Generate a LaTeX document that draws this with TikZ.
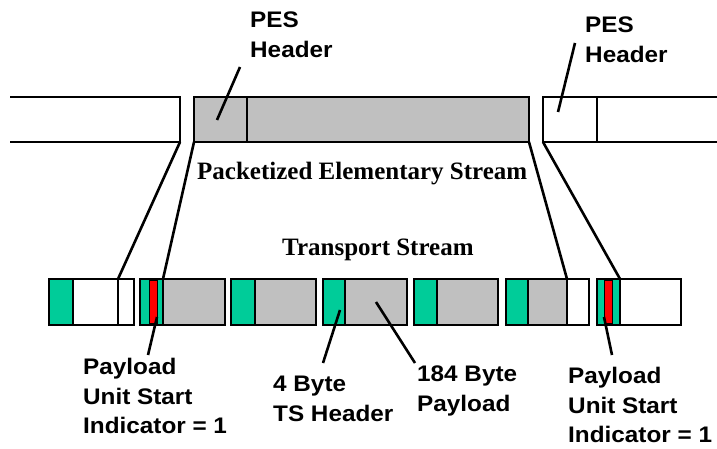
\documentclass[tikz,border=0pt]{standalone}
\usepackage{fontspec}
\setmainfont{Liberation Serif}
\newfontfamily\labelsans[FakeStretch=1.08]{Liberation Sans}
\definecolor{tsgreen}{RGB}{0,204,153}
\definecolor{pesgray}{RGB}{192,192,192}
\definecolor{pusired}{RGB}{255,0,0}
\tikzset{
  edge/.style={line width=2.6pt},
  sanslabel/.style={anchor=north west, inner sep=0pt, align=left,
    font=\labelsans\bfseries\fontsize{22.5}{29.5}\selectfont},
  streamtitle/.style={anchor=base west, inner sep=0pt,
    font=\bfseries\fontsize{25}{30}\selectfont},
  hdrfill/.style={fill=tsgreen},
  payfill/.style={fill=pesgray},
  pusibar/.style={fill=pusired, draw=black, line width=0.7pt}
}
\begin{document}
\begin{tikzpicture}[x=1pt,y=-1pt]
\useasboundingbox (0,0) rectangle (717,449);

% ---------- packetized elementary stream ----------
\draw[edge] (10,97) -- (180,97) -- (180,142) -- (10,142);
\coordinate (pesA) at (180,142);

\draw[edge, payfill] (194,97) rectangle (529,142);
\draw[edge] (247,97) -- (247,142);
\coordinate (pesB) at (194,142);
\coordinate (pesC) at (529,142);
\coordinate (hdrL) at (217,120);

\draw[edge] (717,97) -- (543,97) -- (543,142) -- (717,142);
\draw[edge] (597,97) -- (597,142);
\coordinate (pesD) at (543,142);
\coordinate (hdrR) at (558,112);

% ---------- transport stream packets ----------
% packet 1
\fill[hdrfill] (49,279) rectangle (73,325);
\draw[edge] (49,279) rectangle (134,325);
\draw[edge] (73,279) -- (73,325);
\draw[edge] (118,279) -- (118,325);
\coordinate (tsA) at (118,279);
% packet 2
\fill[hdrfill] (140,279) rectangle (163,325);
\fill[payfill] (163,279) rectangle (225,325);
\draw[pusibar] (149,280.5) rectangle (157,323.5);
\draw[edge] (140,279) rectangle (225,325);
\draw[edge] (163,279) -- (163,325);
\coordinate (tsB) at (163,279);
\coordinate (pusiA) at (157,317);
% packet 3
\fill[hdrfill] (231,279) rectangle (255,325);
\fill[payfill] (255,279) rectangle (316,325);
\draw[edge] (231,279) rectangle (316,325);
\draw[edge] (255,279) -- (255,325);
% packet 4
\fill[hdrfill] (323,279) rectangle (345,325);
\fill[payfill] (345,279) rectangle (407,325);
\draw[edge] (323,279) rectangle (407,325);
\draw[edge] (345,279) -- (345,325);
\coordinate (tshdrpt) at (340,310);
\coordinate (paypt) at (376,302);
% packet 5
\fill[hdrfill] (414,279) rectangle (437,325);
\fill[payfill] (437,279) rectangle (498,325);
\draw[edge] (414,279) rectangle (498,325);
\draw[edge] (437,279) -- (437,325);
% packet 6
\fill[hdrfill] (506,279) rectangle (528,325);
\fill[payfill] (528,279) rectangle (567,325);
\draw[edge] (506,279) rectangle (589,325);
\draw[edge] (528,279) -- (528,325);
\draw[edge] (567,279) -- (567,325);
\coordinate (tsC) at (567,279);
% packet 7
\fill[hdrfill] (597,279) rectangle (620,325);
\draw[pusibar] (604,280.5) rectangle (612,323.5);
\draw[edge] (597,279) rectangle (681,325);
\draw[edge] (620,279) -- (620,325);
\coordinate (tsD) at (620,279);
\coordinate (pusiB) at (604,317);

% ---------- titles ----------
\node[streamtitle] (pestitle) at (197,180) {Packetized Elementary Stream};
\node[streamtitle] (tstitle) at (282,255) {Transport Stream};

% ---------- labels ----------
\node[sanslabel] (peshdrL) at (250,12) {PES\\Header};
\node[sanslabel] (peshdrR) at (585,17) {PES\\Header};
\node[sanslabel] (pusiLabelA) at (83,358) {Payload\\Unit Start\\Indicator = 1};
\node[sanslabel] (tshdrLabel) at (273,376) {4 Byte\\TS Header};
\node[sanslabel] (payLabel) at (417,366) {184 Byte\\Payload};
\node[sanslabel] (pusiLabelB) at (568,367) {Payload\\Unit Start\\Indicator = 1};

\coordinate (hdrLtop) at (240,67);
\coordinate (hdrRtop) at (575,43);
\coordinate (pusiAend) at (148,355);
\coordinate (tshdrend) at (323,363);
\coordinate (payend) at (415,363);
\coordinate (pusiBend) at (612,355);

% ---------- connectors ----------
\draw[edge] (pesA) -- (tsA);
\draw[edge] (pesB) -- (tsB);
\draw[edge] (pesC) -- (tsC);
\draw[edge] (pesD) -- (tsD);
\draw[edge] (hdrLtop) -- (hdrL);
\draw[edge] (hdrRtop) -- (hdrR);
\draw[edge] (pusiA) -- (pusiAend);
\draw[edge] (tshdrpt) -- (tshdrend);
\draw[edge] (paypt) -- (payend);
\draw[edge] (pusiB) -- (pusiBend);
\end{tikzpicture}
\end{document}
